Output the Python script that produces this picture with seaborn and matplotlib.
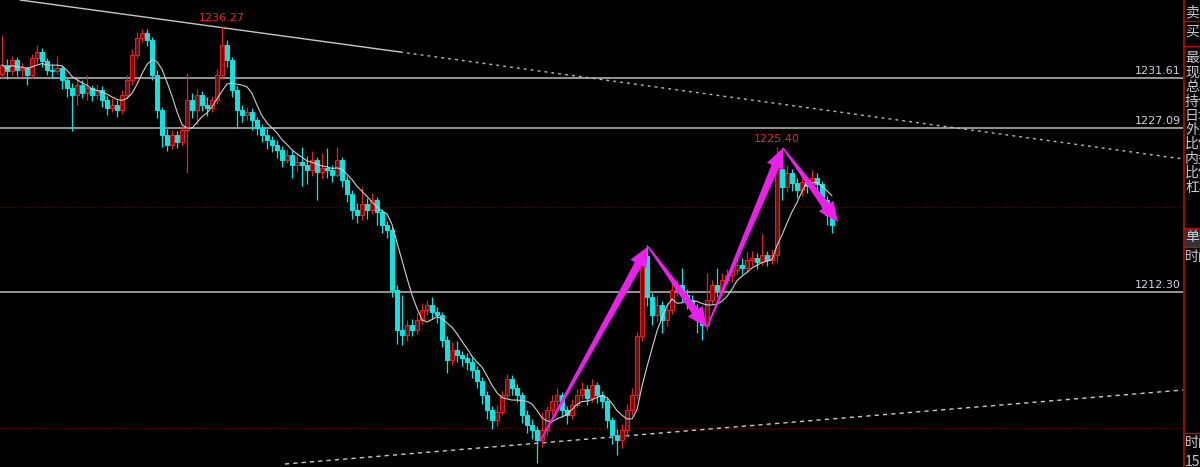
import numpy as np
import pandas as pd
import matplotlib
matplotlib.use("Agg")
import matplotlib.pyplot as plt
from matplotlib.patches import Polygon, Rectangle
import seaborn as sns

# ---- values (price per bar) ----
first_open = 1232.0
closes = [
    1232.8, 1232.2, 1233.2, 1232.3, 1232.5, 1231.9, 1233.4, 1234.0, 1233.1, 1232.3, 1232.2, 1232.5,
    1231.4, 1230.7, 1230.1, 1231.0, 1230.3, 1230.7, 1230.1, 1230.5, 1229.6, 1228.9, 1229.2, 1228.7,
    1230.1, 1231.4, 1233.7, 1235.2, 1235.7, 1235.0, 1231.9, 1228.7, 1226.5, 1225.6, 1226.5, 1225.8,
    1226.9, 1229.6, 1228.7, 1230.1, 1229.2, 1228.9, 1229.6, 1231.9, 1234.6, 1233.2, 1230.5, 1228.7,
    1228.3, 1228.5, 1227.8, 1227.1, 1226.5, 1226.0, 1225.6, 1225.1, 1224.2, 1224.7, 1223.8, 1224.0,
    1223.8, 1223.3, 1224.2, 1223.1, 1223.5, 1223.3, 1222.9, 1224.2, 1222.4, 1221.1, 1219.7, 1219.2,
    1220.2, 1219.7, 1220.6, 1219.5, 1218.3, 1217.9, 1212.5, 1208.9, 1208.4, 1209.3, 1208.9, 1209.8,
    1210.7, 1211.1, 1210.5, 1210.2, 1208.0, 1206.2, 1207.1, 1206.6, 1206.3, 1206.0, 1205.3, 1204.3,
    1203.0, 1201.6, 1200.7, 1201.5, 1203.0, 1204.4, 1203.6, 1203.0, 1201.2, 1200.3, 1199.8, 1198.9,
    1199.8, 1201.6, 1202.5, 1203.0, 1201.6, 1201.2, 1202.1, 1203.0, 1203.5, 1202.7, 1203.9, 1203.0,
    1202.5, 1200.7, 1199.4, 1198.9, 1199.8, 1201.6, 1203.0, 1208.3, 1215.5, 1211.8, 1210.2, 1211.1,
    1209.8, 1210.7, 1212.5, 1212.9, 1212.0, 1211.6, 1210.7, 1209.8, 1209.3, 1211.6, 1212.9, 1212.5,
    1213.4, 1213.8, 1214.3, 1214.7, 1214.5, 1215.2, 1215.4, 1215.0, 1215.6, 1215.2, 1215.6, 1223.4,
    1221.8, 1223.0, 1222.1, 1221.5, 1222.2, 1221.9, 1222.6, 1222.0, 1220.6, 1219.2, 1218.3,
]
highs = [
    1235.5, 1233.3, 1233.6, 1233.5, 1233.0, 1232.7, 1233.8, 1234.6, 1234.3, 1233.4, 1232.9, 1233.6,
    1232.8, 1231.6, 1231.2, 1231.5, 1231.4, 1231.9, 1231.0, 1231.1, 1230.9, 1230.0, 1229.8, 1229.6,
    1230.5, 1231.9, 1234.2, 1235.8, 1236.0, 1236.0, 1235.3, 1232.3, 1229.0, 1227.0, 1226.9, 1226.8,
    1227.4, 1232.1, 1230.3, 1230.6, 1230.4, 1229.9, 1230.0, 1232.4, 1236.27, 1235.0, 1233.5, 1230.9,
    1229.2, 1229.0, 1228.9, 1228.1, 1227.5, 1227.0, 1226.4, 1226.0, 1225.5, 1225.2, 1225.1, 1224.8,
    1225.4, 1224.6, 1225.0, 1224.5, 1224.8, 1225.3, 1223.8, 1225.4, 1224.5, 1222.8, 1221.5, 1220.3,
    1221.8, 1220.8, 1221.2, 1220.9, 1219.8, 1218.7, 1218.2, 1212.9, 1212.0, 1209.8, 1209.9, 1210.4,
    1211.3, 1211.6, 1211.8, 1210.9, 1210.5, 1208.3, 1207.8, 1207.9, 1207.0, 1206.8, 1206.4, 1205.6,
    1204.6, 1203.4, 1202.0, 1202.1, 1203.4, 1204.9, 1204.8, 1204.0, 1203.3, 1201.6, 1200.8, 1200.2,
    1201.5, 1202.0, 1203.0, 1203.6, 1203.3, 1202.0, 1202.6, 1203.5, 1204.2, 1203.9, 1204.4, 1204.2,
    1203.4, 1202.8, 1201.0, 1199.9, 1200.4, 1202.2, 1203.6, 1208.7, 1215.9, 1216.5, 1212.2, 1212.0,
    1211.5, 1211.3, 1213.6, 1213.4, 1214.5, 1212.6, 1212.0, 1211.2, 1210.3, 1214.0, 1213.4, 1214.5,
    1214.0, 1214.4, 1215.0, 1215.3, 1215.4, 1215.9, 1216.0, 1215.8, 1217.5, 1216.0, 1216.2, 1225.40,
    1224.0, 1223.8, 1223.4, 1222.6, 1222.8, 1222.6, 1223.3, 1223.0, 1222.3, 1221.0, 1219.5,
]
lows = [
    1231.6, 1231.5, 1231.9, 1231.8, 1231.7, 1231.0, 1231.6, 1233.0, 1232.6, 1231.9, 1231.6, 1232.0,
    1230.6, 1229.9, 1226.8, 1229.2, 1229.8, 1229.6, 1229.5, 1229.7, 1229.0, 1228.3, 1228.5, 1228.1,
    1228.4, 1229.8, 1231.0, 1233.4, 1234.9, 1234.5, 1231.4, 1228.0, 1225.4, 1225.0, 1225.2, 1225.3,
    1225.5, 1223.0, 1228.0, 1227.5, 1228.6, 1228.2, 1228.5, 1229.3, 1231.5, 1232.6, 1229.9, 1227.1,
    1227.6, 1227.8, 1226.9, 1226.5, 1225.8, 1225.2, 1224.9, 1224.4, 1223.6, 1223.9, 1222.6, 1223.2,
    1221.9, 1222.0, 1222.8, 1220.6, 1222.5, 1222.6, 1222.2, 1222.7, 1221.8, 1220.4, 1218.9, 1218.5,
    1218.8, 1218.9, 1219.3, 1218.3, 1217.6, 1217.2, 1211.8, 1207.6, 1207.5, 1207.9, 1208.3, 1208.5,
    1209.4, 1210.2, 1209.9, 1209.5, 1207.3, 1205.0, 1205.7, 1206.0, 1205.6, 1205.3, 1204.5, 1203.6,
    1202.2, 1200.8, 1199.9, 1200.2, 1201.2, 1202.7, 1203.0, 1202.4, 1200.5, 1199.6, 1199.0, 1196.9,
    1198.3, 1199.4, 1201.2, 1202.0, 1201.0, 1200.4, 1200.8, 1201.8, 1202.6, 1202.1, 1202.4, 1202.3,
    1201.8, 1200.0, 1198.6, 1197.6, 1198.2, 1199.4, 1201.2, 1202.6, 1207.9, 1211.0, 1209.3, 1209.6,
    1208.6, 1209.2, 1210.3, 1211.9, 1211.4, 1210.8, 1210.0, 1208.6, 1208.0, 1208.9, 1211.2, 1211.8,
    1212.0, 1213.0, 1213.2, 1213.9, 1213.9, 1214.1, 1214.6, 1214.4, 1214.7, 1214.6, 1214.8, 1215.0,
    1220.6, 1221.3, 1221.4, 1220.8, 1221.0, 1221.2, 1221.5, 1221.4, 1219.9, 1218.3, 1217.6,
]

level_lines = [1231.61, 1227.09, 1212.30]
grid_levels = [1220.0, 1200.0]
peak_marks = [44, 155]

# trend lines (bar index, price)
upper_trend_x = [3.6, 79.6, 236.2]
upper_trend_y = [1238.65, 1233.96, 1224.3]
lower_trend_x = [56.6, 236.2]
lower_trend_y = [1196.77, 1203.45]

# magenta swing arrows (bar index, price)
pivot_x = [107.6, 129.2, 141.0, 156.2, 167.2]
pivot_y = [1198.8, 1216.4, 1209.1, 1225.3, 1218.6]

panel_labels = ["卖出价", "买入价", "最新价", "现手", "总手", "持仓量", "日增仓",
                "外盘", "比例", "内盘", "比例", "杠杆", "单位", "时间"]
panel_bottom = ["时间", "15:00"]

UP = "#e02424"
UP_FILL = "#7a0e0e"
DOWN = "#12e2e2"
MAGENTA = "#ec20ec"

sns.set_theme(style="dark", rc={"axes.facecolor": "black", "figure.facecolor": "black"})
plt.rcParams["font.family"] = ["DejaVu Sans", "Noto Sans CJK SC"]

df = pd.DataFrame({"close": closes, "high": highs, "low": lows})
df["open"] = df["close"].shift(1).fillna(first_open)
df["idx"] = np.arange(len(df))
df["ma"] = df["close"].rolling(7, min_periods=1).mean()
up = df["close"] >= df["open"]

fig = plt.figure(figsize=(12, 4.67), dpi=100, facecolor="black")
ax = fig.add_axes([0, 0, 1183 / 1200, 1])
ax.set_facecolor("black")
ax.set_xlim(-0.4, 236.2)
ax.set_ylim(1196.5, 1238.65)

# horizontal levels
for g in grid_levels:
    ax.axhline(g, color="#7a0000", lw=0.8, ls=(0, (1, 2)), zorder=1)
for lv in level_lines:
    ax.axhline(lv, color="#bdbdbd", lw=1.1, zorder=1)
    ax.text(0.998, lv + 0.15, f"{lv:.2f}", transform=ax.get_yaxis_transform(),
            ha="right", va="bottom", color="#d0d4dc", fontsize=8)

# trend lines
ax.plot(upper_trend_x[:2], upper_trend_y[:2], color="#c8c8c8", lw=1.0, zorder=1)
ax.plot(upper_trend_x[1:], upper_trend_y[1:], color="#bbbbbb", lw=1.0, ls=(0, (2, 3)), zorder=1)
ax.plot(lower_trend_x, lower_trend_y, color="#cccccc", lw=1.0, ls=(0, (3, 3)), zorder=1)

# candles
colors = np.where(up, UP, DOWN)
ax.vlines(df["idx"], df["low"], df["high"], colors=colors, lw=0.9, zorder=2)
body_lo = df[["open", "close"]].min(axis=1)
body_h = (df["close"] - df["open"]).abs().clip(lower=0.1)
ax.bar(df["idx"], body_h, bottom=body_lo, width=0.62,
       color=np.where(up, UP_FILL, DOWN), edgecolor=colors, linewidth=0.7, zorder=3)

# moving average
sns.lineplot(data=df, x="idx", y="ma", color="#d0d0d0", lw=0.8, ax=ax, legend=False, zorder=4)

# peak labels
for i in peak_marks:
    ax.annotate(f"{highs[i]:.2f}", (i, highs[i]), xytext=(0, 3), textcoords="offset pixels",
                ha="center", va="bottom", color="#e02a2a", fontsize=8)


def taper_arrow(ax, start, end, tail_w=1.5, shaft_w=8, head_w=18, head_len=20):
    tr = ax.transData
    s = tr.transform(start)
    e = tr.transform(end)
    d = (e - s) / np.hypot(*(e - s))
    n = np.array([-d[1], d[0]])
    b = e - d * head_len
    pts = [s + n * tail_w / 2, b + n * shaft_w / 2, b + n * head_w / 2, e,
           b - n * head_w / 2, b - n * shaft_w / 2, s - n * tail_w / 2]
    ax.add_patch(Polygon(tr.inverted().transform(pts), closed=True,
                         facecolor=MAGENTA, edgecolor="none", zorder=5))


for k in range(len(pivot_x) - 1):
    taper_arrow(ax, (pivot_x[k], pivot_y[k]), (pivot_x[k + 1], pivot_y[k + 1]))

ax.set(xlabel=None, ylabel=None, xticks=[], yticks=[])
for sp in ax.spines.values():
    sp.set_visible(False)

# quote panel at the right edge (pixel layout), cut off by the window edge
pan = fig.add_axes([1183 / 1200, 0, 17 / 1200, 1])
pan.set_xlim(0, 17)
pan.set_ylim(467, 0)
pan.axis("off")
pan.add_patch(Rectangle((0.5, 228), 17, 19, facecolor="#333333", edgecolor="none"))
pan.axvline(0.5, color="#b01010", lw=1.2)
for yy in [21, 46, 228, 247, 433]:
    pan.axhline(yy, color="#b01010", lw=1.0)
row_y = [12, 33, 58, 73, 87, 102, 116, 130, 144, 159, 173, 188, 237, 257]
for yy, lab in zip(row_y, panel_labels):
    pan.text(2, yy, lab, fontsize=10, color="#cccccc", va="center", ha="left",
             family=["Noto Sans CJK SC", "DejaVu Sans"])
for yy, lab in zip([443, 462], panel_bottom):
    pan.text(2, yy, lab, fontsize=10, color="#cccccc", va="center", ha="left",
             family=["Noto Sans CJK SC", "DejaVu Sans"])

fig.savefig("out.png", dpi=100, facecolor="black")
